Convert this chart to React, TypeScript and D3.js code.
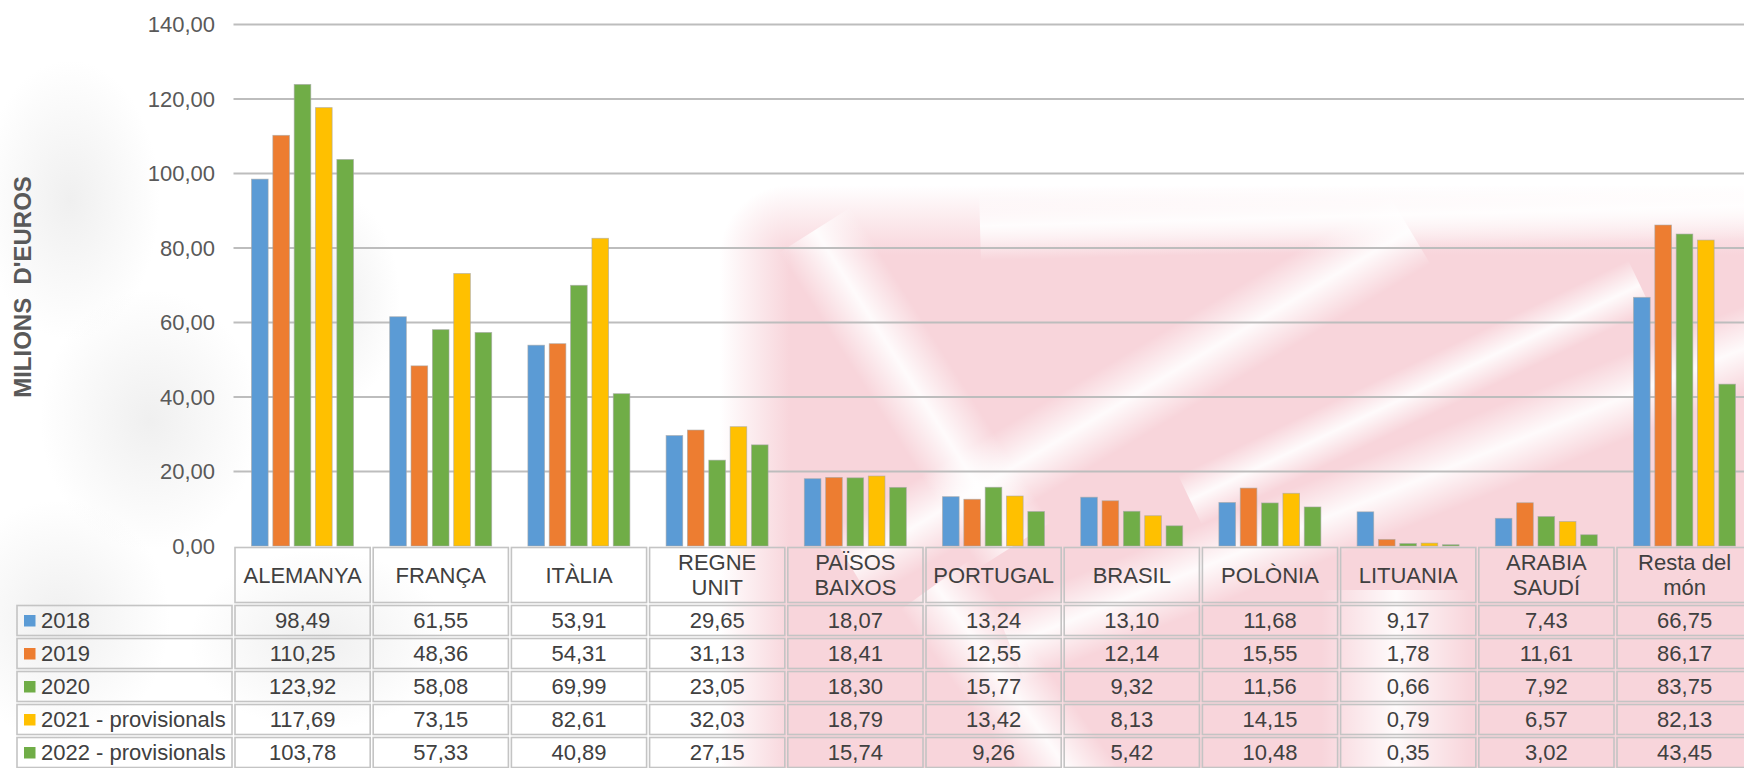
import React from "react";
import * as d3 from "d3";

const categories = ["ALEMANYA", "FRANÇA", "ITÀLIA", "REGNE UNIT", "PAÏSOS BAIXOS", "PORTUGAL", "BRASIL", "POLÒNIA", "LITUANIA", "ARABIA SAUDÍ", "Resta del món"];
const categoryLines = [["ALEMANYA"], ["FRANÇA"], ["ITÀLIA"], ["REGNE", "UNIT"], ["PAÏSOS", "BAIXOS"], ["PORTUGAL"], ["BRASIL"], ["POLÒNIA"], ["LITUANIA"], ["ARABIA", "SAUDÍ"], ["Resta del", "món"]];
const seriesNames = ["2018", "2019", "2020", "2021 - provisionals", "2022 - provisionals"];
const seriesColors = ["#5b9bd5", "#ed7d31", "#70ad47", "#ffc000", "#70ad47"];
const v2018 = [98.49, 61.55, 53.91, 29.65, 18.07, 13.24, 13.10, 11.68, 9.17, 7.43, 66.75];
const v2019 = [110.25, 48.36, 54.31, 31.13, 18.41, 12.55, 12.14, 15.55, 1.78, 11.61, 86.17];
const v2020 = [123.92, 58.08, 69.99, 23.05, 18.30, 15.77, 9.32, 11.56, 0.66, 7.92, 83.75];
const v2021 = [117.69, 73.15, 82.61, 32.03, 18.79, 13.42, 8.13, 14.15, 0.79, 6.57, 82.13];
const v2022 = [103.78, 57.33, 40.89, 27.15, 15.74, 9.26, 5.42, 10.48, 0.35, 3.02, 43.45];
const yTicks = [0, 20, 40, 60, 80, 100, 120, 140];
const yTitle = "MILIONS\u00A0\u00A0D'EUROS";

const seriesValues = [v2018, v2019, v2020, v2021, v2022];

const W = 1744;
const H = 768;
const plotLeft = 233.5;
const bandW = 138.2;
const plotTop = 24.5;
const plotBottom = 546;
const headerBottom = 604;
const rowH = 33;
const tableLeft = 15.5;

// soft background watermark shapes (decoration): [x1, y1, x2, y2, width]
const whiteStripes: number[][] = [
  [850, 565, 1410, 230, 80],
  [1010, 645, 1790, 330, 80],
  [1190, 500, 1640, 285, 55],
  [815, 230, 1015, 545, 85],
  [935, 585, 1090, 800, 85],
  [1396, 590, 1396, 800, 150],
  [980, 226, 1790, 204, 70],
];
const grayBlobs: number[][] = [
  [70, 200, 90, 140],
  [150, 420, 110, 130],
  [60, 620, 110, 120],
  [320, 640, 130, 90],
  [330, 300, 70, 110],
  [1060, 300, 50, 60],
];

const fmt = (v: number) => v.toFixed(2).replace(".", ",");

export default function App() {
  const x = d3.scaleBand<string>().domain(categories).range([plotLeft, plotLeft + bandW * categories.length]).paddingInner(0).paddingOuter(0);
  const xs = d3.scaleBand<string>().domain(seriesNames).range([18, 120]).paddingInner(0.22).paddingOuter(0);
  const y = d3.scaleLinear().domain([0, 140]).range([plotBottom, plotTop]);
  const font = "'Liberation Sans', Arial, sans-serif";
  const textColor = "#404040";
  const cellStroke = "#c4c4c4";
  const pink = "#f8d5db";

  return (
    <svg width={W} height={H} style={{ position: "absolute", left: 0, top: 0, background: "#fff" }} viewBox={`0 0 ${W} ${H}`}>
      <defs>
        <linearGradient id="stripeGrad" x1="0" y1="0" x2="0" y2="1">
          <stop offset="0" stopColor="#fff" stopOpacity={0} />
          <stop offset="0.5" stopColor="#fff" stopOpacity={0.9} />
          <stop offset="1" stopColor="#fff" stopOpacity={0} />
        </linearGradient>
        <linearGradient id="pinkLeft" x1="0" y1="0" x2="1" y2="0">
          <stop offset="0" stopColor={pink} stopOpacity={0} />
          <stop offset="1" stopColor={pink} stopOpacity={1} />
        </linearGradient>
        <linearGradient id="pinkTop" x1="0" y1="0" x2="0" y2="1">
          <stop offset="0" stopColor={pink} stopOpacity={0} />
          <stop offset="1" stopColor={pink} stopOpacity={1} />
        </linearGradient>
        <radialGradient id="pinkCorner" cx="1" cy="1" r="1">
          <stop offset="0" stopColor={pink} stopOpacity={1} />
          <stop offset="1" stopColor={pink} stopOpacity={0} />
        </radialGradient>
        <radialGradient id="grayBlob">
          <stop offset="0" stopColor="#e0e0e0" stopOpacity={0.5} />
          <stop offset="1" stopColor="#e0e0e0" stopOpacity={0} />
        </radialGradient>
        <clipPath id="clipAll">
          <rect x={0} y={0} width={W} height={H} />
        </clipPath>
      </defs>
      <g clipPath="url(#clipAll)">
        {/* soft watermark */}
        {grayBlobs.map((b, i) => (
          <ellipse key={i} cx={b[0]} cy={b[1]} rx={b[2]} ry={b[3]} fill="url(#grayBlob)" />
        ))}
        <rect x={790} y={255} width={W - 790} height={H - 255} fill={pink} />
        <rect x={720} y={255} width={70} height={H - 255} fill="url(#pinkLeft)" />
        <rect x={790} y={185} width={W - 790} height={70} fill="url(#pinkTop)" />
        <rect x={720} y={185} width={70} height={70} fill="url(#pinkCorner)" />
        {whiteStripes.map((s, i) => {
          const [x1, y1, x2, y2, w] = s;
          const len = Math.hypot(x2 - x1, y2 - y1);
          const ang = (Math.atan2(y2 - y1, x2 - x1) * 180) / Math.PI;
          return (
            <rect key={i} x={0} y={-w / 2} width={len} height={w} fill="url(#stripeGrad)" transform={`translate(${x1},${y1}) rotate(${ang})`} />
          );
        })}

        {/* gridlines */}
        {yTicks.filter((t) => t > 0).map((t) => (
          <line key={t} x1={plotLeft} x2={W} y1={y(t)} y2={y(t)} stroke="#bdbdbd" strokeWidth={2} />
        ))}

        {/* y tick labels */}
        {yTicks.map((t) => (
          <text key={t} x={215} y={y(t)} dy="0.36em" textAnchor="end" fontFamily={font} fontSize={22} fill="#595959">
            {fmt(t)}
          </text>
        ))}

        {/* y title */}
        <text transform={`translate(${31},${287}) rotate(-90)`} textAnchor="middle" fontFamily={font} fontSize={24} fontWeight="bold" fill="#595959">
          {yTitle}
        </text>

        {/* bars */}
        {categories.map((c, ci) => (
          <g key={c} transform={`translate(${x(c)},0)`}>
            {seriesNames.map((s, si) => {
              const v = seriesValues[si][ci];
              return (
                <rect key={s} x={xs(s)} y={y(v)} width={xs.bandwidth()} height={Math.max(0.8, plotBottom - y(v))} fill={seriesColors[si]} stroke="#a8a8a8" strokeOpacity={0.7} strokeWidth={0.8} />
              );
            })}
          </g>
        ))}

        {/* table header cells */}
        {categories.map((c, ci) => {
          const x0 = x(c) as number;
          const lines = categoryLines[ci];
          const cy = (plotBottom + headerBottom) / 2;
          return (
            <g key={c}>
              <rect x={x0 + 1.5} y={plotBottom + 1.5} width={bandW - 3} height={headerBottom - plotBottom - 3} fill="none" stroke={cellStroke} strokeWidth={1.6} />
              {lines.map((ln, li) => (
                <text key={li} x={x0 + bandW / 2} y={cy + (li - (lines.length - 1) / 2) * 25} dy="0.36em" textAnchor="middle" fontFamily={font} fontSize={22} fill={textColor}>
                  {ln}
                </text>
              ))}
            </g>
          );
        })}

        {/* table data rows */}
        {seriesNames.map((s, si) => {
          const y0 = headerBottom + si * rowH;
          return (
            <g key={s}>
              <rect x={tableLeft + 1.5} y={y0 + 1.5} width={plotLeft - tableLeft - 3} height={rowH - 3} fill="none" stroke={cellStroke} strokeWidth={1.6} />
              <rect x={24} y={y0 + rowH / 2 - 5.5} width={11.5} height={11.5} fill={seriesColors[si]} />
              <text x={41} y={y0 + rowH / 2} dy="0.36em" fontFamily={font} fontSize={22} fill={textColor}>
                {s}
              </text>
              {categories.map((c, ci) => {
                const x0 = x(c) as number;
                return (
                  <g key={c}>
                    <rect x={x0 + 1.5} y={y0 + 1.5} width={bandW - 3} height={rowH - 3} fill="none" stroke={cellStroke} strokeWidth={1.6} />
                    <text x={x0 + bandW / 2} y={y0 + rowH / 2} dy="0.36em" textAnchor="middle" fontFamily={font} fontSize={22} fill={textColor}>
                      {fmt(seriesValues[si][ci])}
                    </text>
                  </g>
                );
              })}
            </g>
          );
        })}
      </g>
    </svg>
  );
}
